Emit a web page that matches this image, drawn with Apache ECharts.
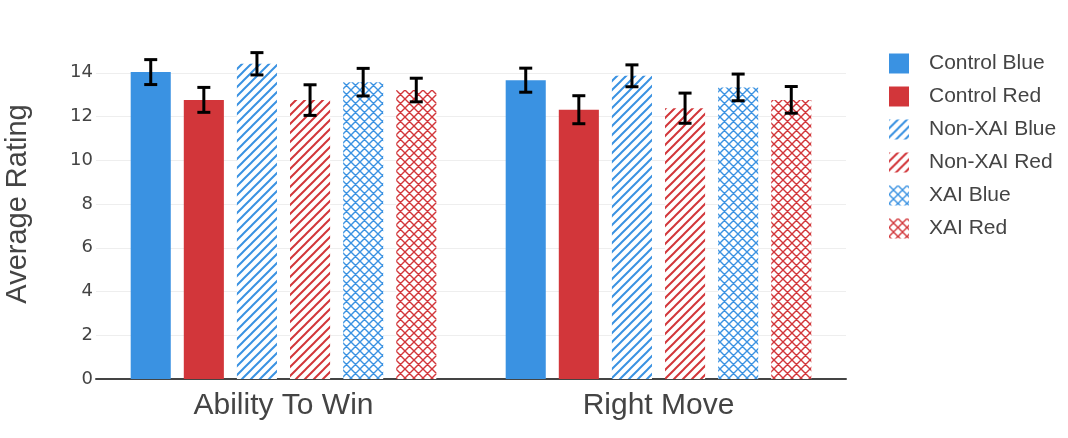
<!DOCTYPE html>
<html>
<head>
<meta charset="utf-8">
<script src="https://cdn.jsdelivr.net/npm/echarts@6/dist/echarts.min.js"></script>
<style>
  html, body { margin: 0; padding: 0; background: #fff; }
  #chart { width: 1068px; height: 438px; }
</style>
</head>
<body>
<div id="chart"></div>
<script>
const categories = ['Ability To Win', 'Right Move']
const seriesNames = ['Control Blue', 'Control Red', 'Non-XAI Blue', 'Non-XAI Red', 'XAI Blue', 'XAI Red']
const controlBlue = [14.03, 13.66]
const controlRed = [12.76, 12.31]
const nonXaiBlue = [14.41, 13.86]
const nonXaiRed = [12.75, 12.38]
const xaiBlue = [13.57, 13.33]
const xaiRed = [13.21, 12.76]
// half-width of the error bars
const controlBlueErr = [0.57, 0.55]
const controlRedErr = [0.57, 0.64]
const nonXaiBlueErr = [0.51, 0.50]
const nonXaiRedErr = [0.70, 0.69]
const xaiBlueErr = [0.63, 0.61]
const xaiRedErr = [0.54, 0.61]
const yTicks = [0, 2, 4, 6, 8, 10, 12, 14]

const values = [controlBlue, controlRed, nonXaiBlue, nonXaiRed, xaiBlue, xaiRed]
const errors = [controlBlueErr, controlRedErr, nonXaiBlueErr, nonXaiRedErr, xaiBlueErr, xaiRedErr]

const BLUE = '#3A92E2'
const RED = '#D2363A'
const CAT_GAP = 0.185
const BAR_GAP = 0.325

function makePattern (color, kind) {
  const s = 9
  const c = document.createElement('canvas')
  c.width = s
  c.height = s
  const ctx = c.getContext('2d')
  ctx.fillStyle = '#fff'
  ctx.fillRect(0, 0, s, s)
  ctx.strokeStyle = color
  ctx.lineWidth = kind === 'stripe' ? 2 : 1.4
  ctx.beginPath()
  // "/" lines
  ctx.moveTo(-1, s + 1); ctx.lineTo(s + 1, -1)
  ctx.moveTo(-1, 1); ctx.lineTo(1, -1)
  ctx.moveTo(s - 1, s + 1); ctx.lineTo(s + 1, s - 1)
  if (kind === 'cross') {
    // "\" lines
    ctx.moveTo(-1, -1); ctx.lineTo(s + 1, s + 1)
    ctx.moveTo(s - 1, -1); ctx.lineTo(s + 1, 1)
    ctx.moveTo(-1, s - 1); ctx.lineTo(1, s + 1)
  }
  ctx.stroke()
  return { image: c, repeat: 'repeat' }
}

const fills = [
  BLUE,
  RED,
  makePattern(BLUE, 'stripe'),
  makePattern(RED, 'stripe'),
  makePattern(BLUE, 'cross'),
  makePattern(RED, 'cross')
]

let errData = []
values.forEach((vals, si) => {
  vals.forEach((v, ci) => {
    errData.push([ci, v - errors[si][ci], v + errors[si][ci], si])
  })
})

let series = values.map((vals, i) => ({
  name: seriesNames[i],
  type: 'bar',
  barCategoryGap: (CAT_GAP * 100) + '%',
  barGap: (BAR_GAP * 100) + '%',
  itemStyle: { color: fills[i] },
  emphasis: { disabled: true },
  data: vals
}))

series.push({
  name: 'errors',
  type: 'custom',
  z: 10,
  encode: { x: 0, y: [1, 2] },
  data: errData,
  renderItem: function (params, api) {
    const band = api.size([1, 0])[0]
    const w = band * (1 - CAT_GAP) / (6 + 5 * BAR_GAP)
    const off = (api.value(3) - 2.5) * w * (1 + BAR_GAP)
    const lo = api.coord([api.value(0), api.value(1)])
    const hi = api.coord([api.value(0), api.value(2)])
    const x = lo[0] + off
    const cap = 6.5
    const style = { stroke: '#000', lineWidth: 3 }
    return {
      type: 'group',
      children: [
        { type: 'line', shape: { x1: x, y1: lo[1], x2: x, y2: hi[1] }, style: style },
        { type: 'line', shape: { x1: x - cap, y1: lo[1], x2: x + cap, y2: lo[1] }, style: style },
        { type: 'line', shape: { x1: x - cap, y1: hi[1], x2: x + cap, y2: hi[1] }, style: style }
      ]
    }
  }
})

let myChart = echarts.init(document.getElementById('chart'))
let option = {
  animation: false,
  backgroundColor: '#fff',
  textStyle: { fontFamily: 'Liberation Sans, Arial, sans-serif', color: '#444' },
  grid: {
    left: 96,
    right: 222,
    top: 29,
    bottom: 59,
    containLabel: false,
    outerBoundsMode: 'none'
  },
  legend: {
    orient: 'vertical',
    left: 884,
    top: 48,
    itemWidth: 20,
    itemHeight: 20,
    itemGap: 12,
    icon: 'rect',
    data: seriesNames,
    textStyle: {
      fontSize: 21,
      color: '#444',
      fontFamily: 'Liberation Sans, Arial, sans-serif',
      padding: [0, 0, 0, 15]
    }
  },
  xAxis: {
    type: 'category',
    data: categories,
    axisLine: { lineStyle: { color: '#444', width: 2 } },
    axisTick: { show: false },
    axisLabel: {
      fontSize: 30,
      color: '#444',
      margin: 12,
      fontFamily: 'Liberation Sans, Arial, sans-serif'
    }
  },
  yAxis: {
    type: 'value',
    min: 0,
    max: 16,
    interval: 2,
    name: 'Average Rating',
    nameLocation: 'middle',
    nameGap: 64,
    nameTextStyle: {
      fontSize: 29,
      color: '#444',
      fontFamily: 'Liberation Sans, Arial, sans-serif'
    },
    axisLine: { show: false },
    axisTick: { show: false },
    axisLabel: {
      fontSize: 18,
      color: '#444',
      margin: 3,
      fontFamily: 'DejaVu Sans, sans-serif',
      showMaxLabel: false,
      formatter: function (v) { return yTicks.indexOf(v) >= 0 ? String(v) : '' }
    },
    splitLine: { showMaxLine: false, showMinLine: false, lineStyle: { color: '#eee', width: 1 } }
  },
  series: series
}
myChart.setOption(option)
window.onresize = function () {
  myChart.resize()
}
</script>
</body>
</html>
